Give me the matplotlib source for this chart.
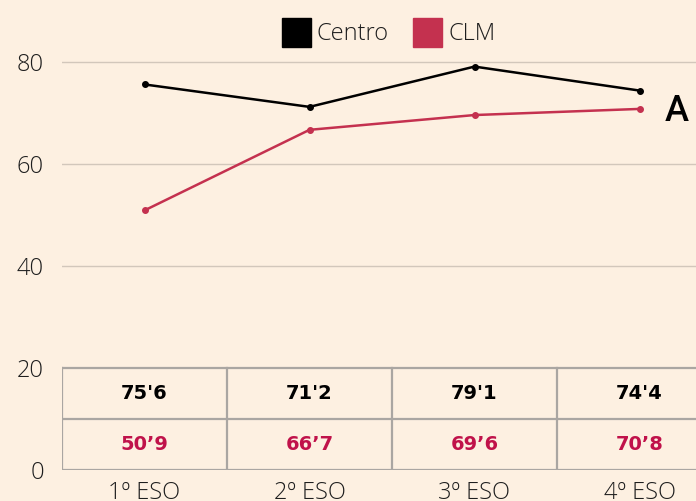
import numpy as np
import matplotlib.pyplot as plt
from matplotlib.patches import Rectangle

# Datos
cursos = ['1º ESO', '2º ESO', '3º ESO', '4º ESO']
centro = [75.6, 71.2, 79.1, 74.4]
clm = [50.9, 66.7, 69.6, 70.8]
centro_txt = ["75'6", "71'2", "79'1", "74'4"]
clm_txt = ["50’9", "66’7", "69’6", "70’8"]
yticks = [0, 20, 40, 60, 80]

fondo = '#fdf0e1'
rojo = '#c4314f'
rojo_txt = '#c0124a'
gris = '#aaa6a2'
texto = '#1e1e1e'

plt.rcParams['font.family'] = ['Open Sans', 'DejaVu Sans']

fig = plt.figure(figsize=(6.96, 5.01), dpi=100, facecolor=fondo)
ax = fig.add_axes([62 / 696, 31 / 501, 634 / 696, 470 / 501])
ax.set_facecolor(fondo)

x = np.arange(len(cursos)) + 0.5
ax.set_xlim(0, 634 / 165)
ax.set_ylim(0, 470 / 5.1)

# Rejilla
for v in [40, 60, 80]:
    ax.axhline(v, color='#d2c7bb', lw=1, zorder=1)

# Lineas
ax.plot(x, centro, color='black', lw=1.8, marker='o', ms=4, zorder=3)
ax.plot(x, clm, color=rojo, lw=1.8, marker='o', ms=4, zorder=3)

# Tabla en la parte baja
for y in [0, 10, 20]:
    ax.plot([0, 5], [y, y], color=gris, lw=1.6, zorder=2)
for i in range(len(cursos) + 1):
    ax.plot([i, i], [0, 20], color=gris, lw=1.6, zorder=2)
for i in range(len(cursos)):
    ax.text(x[i], 15, centro_txt[i], ha='center', va='center', fontsize=14,
            fontweight='bold', color='black', family='DejaVu Sans')
    ax.text(x[i], 5, clm_txt[i], ha='center', va='center', fontsize=14,
            fontweight='bold', color=rojo_txt, family='DejaVu Sans')

# Etiqueta recortada a la derecha
ax.text(3.65, 70.2, 'A', ha='left', va='center', fontsize=26,
        fontweight='medium', color='black', family=['Roboto', 'DejaVu Sans'])

ax.set_xticks(x)
ax.set_xticklabels(cursos, fontsize=17, color=texto, fontweight='light')
ax.set_yticks(yticks)
ax.set_yticklabels([str(v) for v in yticks], fontsize=17, color=texto, fontweight='light')
ax.tick_params(axis='y', length=0, pad=13)
ax.tick_params(axis='x', length=0, pad=8)
for s in ax.spines.values():
    s.set_visible(False)

# Leyenda
fig.patches.append(Rectangle((282 / 696, 1 - 47 / 501), 29 / 696, 29 / 501,
                             transform=fig.transFigure, color='black'))
fig.text(317 / 696, 1 - 34 / 501, 'Centro', fontsize=17, color=texto,
         va='center', ha='left', fontweight='light')
fig.patches.append(Rectangle((413 / 696, 1 - 47 / 501), 29 / 696, 29 / 501,
                             transform=fig.transFigure, color=rojo))
fig.text(448 / 696, 1 - 34 / 501, 'CLM', fontsize=17, color=texto,
         va='center', ha='left', fontweight='light')

fig.savefig('out.png', dpi=100, facecolor=fondo)
